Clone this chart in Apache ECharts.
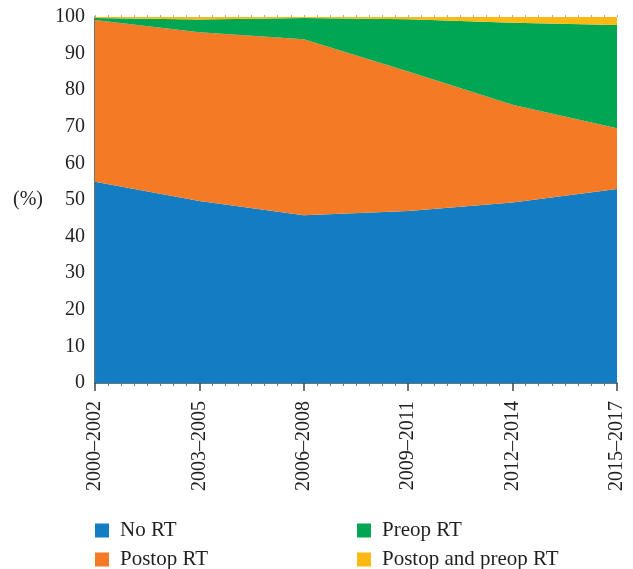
<!DOCTYPE html>
<html>
<head>
<meta charset="utf-8">
<script src="https://cdn.jsdelivr.net/npm/echarts@6/dist/echarts.min.js"></script>
<style>
  html, body { margin: 0; padding: 0; background: #fff; }
  #chart { width: 633px; height: 569px; }
</style>
</head>
<body>
<div id="chart"></div>
<script>
// periods on the x axis
const periods = ['2000–2002', '2003–2005', '2006–2008', '2009–2011', '2012–2014', '2015–2017'];

// share of patients (%) per treatment group, stacked to 100
const noRT = [55.0, 49.7, 45.8, 47.0, 49.3, 53.0];
const postopRT = [44.2, 46.1, 48.1, 38.1, 26.7, 16.6];
const preopRT = [0.5, 3.5, 5.8, 14.3, 22.4, 28.2];
const bothRT = [0.3, 0.7, 0.3, 0.6, 1.6, 2.2];

const yTicks = [0, 10, 20, 30, 40, 50, 60, 70, 80, 90, 100];

const serif = '"Liberation Serif", "DejaVu Serif", serif';
const textColor = '#231f20';
const fontSize = 20;

function area(name, data, color) {
  return {
    name: name,
    type: 'line',
    stack: 'total',
    data: data,
    symbol: 'none',
    lineStyle: { width: 0 },
    areaStyle: { color: color, opacity: 1 },
    itemStyle: { color: color }
  };
}

// one legend box per item, laid out as two columns
function legendItem(name, left, top) {
  return {
    data: [name],
    left: left, top: top,
    padding: 0,
    itemWidth: 14, itemHeight: 14,
    icon: 'rect',
    textStyle: { fontFamily: serif, fontSize: 21, color: textColor, padding: [0, 0, 0, 6] }
  };
}

const chart = echarts.init(document.getElementById('chart'));

chart.setOption({
  animation: false,
  textStyle: { fontFamily: serif },
  grid: { left: 95, right: 16, top: 17, bottom: 186 },
  legend: [
    legendItem('No RT', 95, 520),
    legendItem('Postop RT', 95, 549),
    legendItem('Preop RT', 357, 520),
    legendItem('Postop and preop RT', 357, 549)
  ],
  xAxis: [
    {
      type: 'category',
      data: periods,
      boundaryGap: false,
      axisLine: { lineStyle: { color: '#444', width: 1.5 } },
      axisTick: { length: 8, lineStyle: { color: '#444', width: 1.5 } },
      axisLabel: {
        rotate: 90, margin: 18, fontSize: fontSize, color: textColor, fontFamily: serif
      }
    },
    {
      // minor tick marks between the periods
      type: 'value',
      position: 'bottom',
      min: 0, max: 5, interval: 1,
      axisLine: { show: false },
      axisTick: { show: false },
      axisLabel: { show: false },
      splitLine: { show: false },
      minorTick: { show: true, splitNumber: 8, length: 3, lineStyle: { color: '#777' } }
    },
    {
      // faint frame line along the top with small ticks
      type: 'value',
      position: 'top',
      min: 0, max: 5, interval: 1,
      axisLine: { show: true, lineStyle: { color: '#c8c8c8', width: 1 } },
      axisTick: { show: true, length: 2, lineStyle: { color: '#aaa' } },
      axisLabel: { show: false },
      splitLine: { show: false },
      minorTick: { show: true, splitNumber: 8, length: 2, lineStyle: { color: '#aaa' } }
    }
  ],
  yAxis: {
    type: 'value',
    min: 0, max: 100, interval: 10,
    name: '(%)',
    nameLocation: 'middle',
    nameRotate: 0,
    nameGap: 52,
    nameTextStyle: { fontSize: fontSize, color: textColor, fontFamily: serif },
    axisLine: { show: true, lineStyle: { color: '#444', width: 1.5 } },
    axisTick: { show: false },
    splitLine: { show: false },
    axisLabel: {
      margin: 10, fontSize: fontSize, color: textColor, fontFamily: serif,
      formatter: v => (yTicks.includes(v) ? String(v) : '')
    }
  },
  series: [
    area('No RT', noRT, '#127dc2'),
    area('Postop RT', postopRT, '#f47a26'),
    area('Preop RT', preopRT, '#00a651'),
    area('Postop and preop RT', bothRT, '#fdb913')
  ]
});
</script>
</body>
</html>
